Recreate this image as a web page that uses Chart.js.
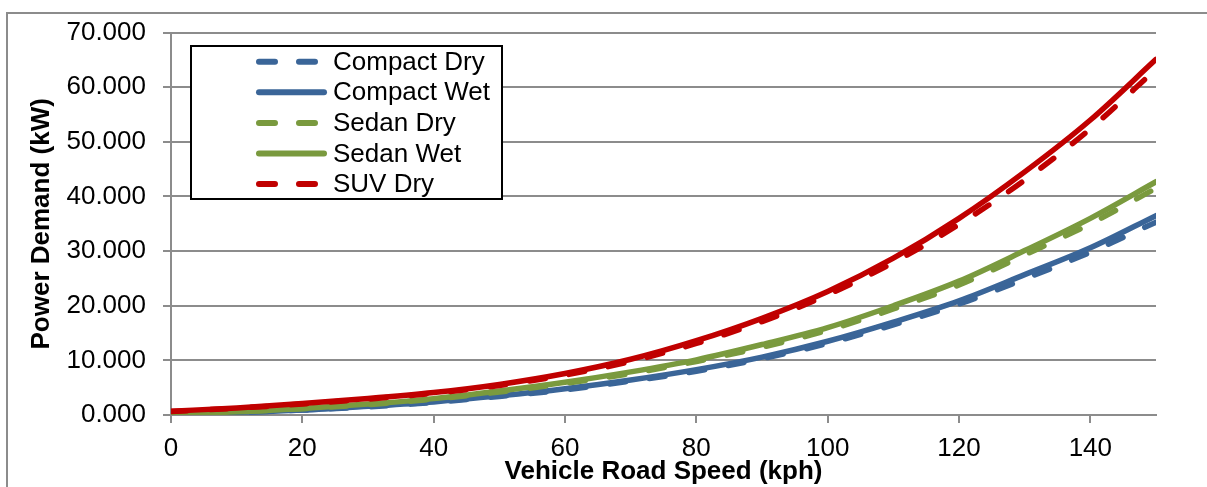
<!DOCTYPE html>
<html>
<head>
<meta charset="utf-8">
<script src="https://cdn.jsdelivr.net/npm/chart.js@4/dist/chart.umd.min.js"></script>
<style>
  html, body { margin: 0; padding: 0; background: #fff; overflow: hidden; }
  #wrap { position: relative; width: 1207px; height: 487px; overflow: hidden; background: #fff; }
  #frame { position: absolute; left: 6px; top: 12px; width: 1400px; height: 700px; border: 2px solid #8c8c8c; box-sizing: border-box; }
  #c { position: absolute; left: 0; top: 0; }
</style>
</head>
<body>
<div id="wrap">
  <div id="frame"></div>
  <canvas id="c" width="1207" height="487"></canvas>
</div>
<script>
// ---- data ----
const speeds = [0, 10, 20, 30, 40, 50, 60, 70, 80, 90, 100, 110, 120, 130, 140, 150];
const compactDry = [0.25, 0.45, 0.9, 1.5, 2.3, 3.4, 4.6, 6.2, 8.0, 10.3, 13.1, 16.5, 20.3, 24.9, 29.8, 35.3];
const compactWet = [0.3, 0.5, 0.9, 1.6, 2.4, 3.5, 4.8, 6.4, 8.3, 10.6, 13.5, 17.0, 20.9, 25.7, 30.6, 36.5];
const sedanDry   = [0.3, 0.6, 1.15, 1.9, 2.9, 4.2, 5.8, 7.6, 9.8, 12.4, 15.5, 19.4, 23.8, 29.3, 35.0, 41.5];
const sedanWet   = [0.3, 0.6, 1.2, 2.0, 3.0, 4.4, 6.0, 7.9, 10.1, 12.9, 16.0, 20.0, 24.5, 30.1, 36.0, 42.7];
const suvDry     = [0.65, 1.25, 2.0, 2.9, 4.0, 5.4, 7.3, 9.8, 13.1, 17.1, 22.0, 27.9, 34.9, 43.0, 52.4, 63.3];
const suvWet     = [0.7, 1.3, 2.1, 3.0, 4.1, 5.6, 7.6, 10.2, 13.6, 17.7, 22.6, 28.7, 36.0, 44.5, 54.0, 65.1];
const seriesNames = ['Compact Dry', 'Compact Wet', 'Sedan Dry', 'Sedan Wet', 'SUV Dry', 'SUV Wet'];
const xTickValues = [0, 20, 40, 60, 80, 100, 120, 140];
const yTickLabels = ['0.000', '10.000', '20.000', '30.000', '40.000', '50.000', '60.000', '70.000'];

// ---- styling ----
const BLUE = '#3a6598', GREEN = '#7a9a3e', RED = '#c00000';
const FONT = "'Liberation Sans', Arial, sans-serif";
const GRID = '#8c8c8c';
const DASH = [16, 24];

function pts(arr) { return speeds.map((s, i) => ({ x: s, y: arr[i] })); }

const styles = [
  { color: BLUE, dash: DASH }, { color: BLUE, dash: [] },
  { color: GREEN, dash: DASH }, { color: GREEN, dash: [] },
  { color: RED, dash: DASH }, { color: RED, dash: [] }
];
const values = [compactDry, compactWet, sedanDry, sedanWet, suvDry, suvWet];

const datasets = values.map((v, i) => ({
  label: seriesNames[i],
  data: pts(v),
  borderColor: styles[i].color,
  backgroundColor: styles[i].color,
  borderDash: styles[i].dash,
  borderWidth: 5.5,
  borderCapStyle: 'round',
  borderJoinStyle: 'round',
  pointRadius: 0,
  tension: 0.4,
  cubicInterpolationMode: 'monotone',
  fill: false,
  order: values.length - 1 - i
}));

const LEGEND_COUNT = 5;
const boxLegend = {
  id: 'boxLegend',
  afterDraw(chart) {
    const ctx = chart.ctx;
    ctx.save();
    const bx = 191, by = 46, bw = 311, bh = 153;
    ctx.fillStyle = '#fff';
    ctx.fillRect(bx, by, bw, bh);
    ctx.strokeStyle = '#000';
    ctx.lineWidth = 2;
    ctx.strokeRect(bx, by, bw, bh);
    const rowY0 = 61.7, rowH = 30.6;
    for (let i = 0; i < LEGEND_COUNT; i++) {
      const ds = chart.data.datasets[i];
      const y = rowY0 + i * rowH;
      ctx.beginPath();
      ctx.strokeStyle = ds.borderColor;
      ctx.lineWidth = 6;
      ctx.lineCap = 'round';
      ctx.setLineDash(ds.borderDash && ds.borderDash.length ? [16, 24] : []);
      ctx.moveTo(259, y);
      ctx.lineTo(324, y);
      ctx.stroke();
      ctx.setLineDash([]);
      ctx.fillStyle = '#000';
      ctx.font = '26px ' + FONT;
      ctx.textBaseline = 'middle';
      ctx.textAlign = 'left';
      ctx.fillText(ds.label, 333, y + 1);
    }
    ctx.restore();
  }
};

new Chart(document.getElementById('c'), {
  type: 'line',
  data: { datasets },
  plugins: [boxLegend],
  options: {
    responsive: false,
    animation: false,
    layout: { padding: { left: 26, top: 30, right: 51, bottom: 0 } },
    plugins: { legend: { display: false }, tooltip: { enabled: false } },
    scales: {
      x: {
        type: 'linear',
        min: 0, max: 150,
        afterBuildTicks(scale) { scale.ticks = xTickValues.map(v => ({ value: v })); },
        afterFit(scale) { scale.height = 72; },
        ticks: {
          color: '#000', font: { family: FONT, size: 26 }, padding: 10,
          maxRotation: 0, autoSkip: false,
          callback: (v) => String(v)
        },
        grid: { drawOnChartArea: false, drawTicks: true, tickLength: 8, color: GRID, lineWidth: 2 },
        border: { display: true, color: GRID, width: 2 },
        title: {
          display: true, text: 'Vehicle Road Speed (kph)', color: '#000',
          font: { family: FONT, size: 26, weight: 'bold' }, padding: { top: 0, bottom: 0 }
        }
      },
      y: {
        min: 0, max: 70,
        ticks: {
          stepSize: 10, color: '#000', font: { family: FONT, size: 26 }, padding: 17,
          callback: (v) => yTickLabels[Math.round(v / 10)]
        },
        afterFit(scale) { scale.width = 145; },
        grid: { drawOnChartArea: true, drawTicks: true, tickLength: 8, color: GRID, lineWidth: 2 },
        border: { display: true, color: GRID, width: 2 },
        title: {
          display: true, text: 'Power Demand (kW)', color: '#000',
          font: { family: FONT, size: 26, weight: 'bold' }, padding: { top: 0, bottom: 0 }
        }
      }
    }
  }
});
</script>
</body>
</html>
